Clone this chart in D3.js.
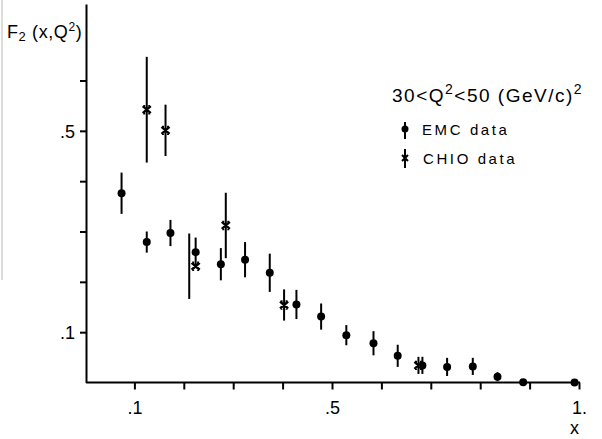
<!DOCTYPE html>
<html>
<head>
<meta charset="utf-8">
<script src="https://cdn.jsdelivr.net/npm/d3@7"></script>
<style>
  body { margin: 0; background: #fff; }
  text { font-family: "Liberation Sans", Arial, sans-serif; fill: #000; }
</style>
</head>
<body>
<div id="main"></div>
<script>
// EMC points: x, F2, error
const emcX = [0.074, 0.125, 0.173, 0.224, 0.275, 0.324, 0.374, 0.428, 0.478, 0.529,
  0.584, 0.633, 0.683, 0.733, 0.785, 0.835, 0.887, 0.991];
const emcF2 = [0.376, 0.279, 0.297, 0.259, 0.235, 0.244, 0.218, 0.155, 0.131, 0.094,
  0.078, 0.053, 0.034, 0.031, 0.032, 0.0115, 0.0004, 0.0];
const emcErr = [0.041, 0.021, 0.026, 0.029, 0.032, 0.035, 0.038, 0.029, 0.026, 0.020,
  0.024, 0.022, 0.017, 0.018, 0.017, 0.009, 0.005, 0.004];

// CHIO points (bar x differs for one point in the original)
const chioX = [0.125, 0.163, 0.224, 0.285, 0.403, 0.675];
const chioBarX = [0.125, 0.163, 0.211, 0.285, 0.403, 0.675];
const chioF2 = [0.542, 0.501, 0.231, 0.312, 0.154, 0.034];
const chioErr = [0.105, 0.051, 0.065, 0.065, 0.031, 0.017];

const xTicks = [0.1, 0.2, 0.3, 0.4, 0.5, 0.6, 0.7, 0.8, 0.9, 1.0];
const xLabels = { 0.1: ".1", 0.5: ".5", 1: "1." };
const yTicks = [0.1, 0.2, 0.3, 0.4, 0.5, 0.6];
const yLabels = { 0.1: ".1", 0.5: ".5" };

const width = 602;
const height = 439;

const svg = d3.select("#main").append("svg").attr("width", width).attr("height", height);

const xScale = d3.scaleLinear().domain([0, 1]).range([85, 579]);
const yScale = d3.scaleLinear().domain([0, 0.752]).range([382.5, 4]);

// faint scan edge on the left
svg.append("line")
  .attr("x1", 2).attr("x2", 2).attr("y1", 0).attr("y2", 280)
  .attr("stroke", "#d0d0d0").attr("stroke-width", 1.5);

// axes
const xAxis = d3.axisBottom(xScale)
  .tickValues(xTicks)
  .tickFormat((d) => xLabels[Math.round(d * 10) / 10] || "")
  .tickSize(7)
  .tickSizeOuter(0)
  .tickPadding(12);

const yAxis = d3.axisLeft(yScale)
  .tickValues(yTicks)
  .tickFormat((d) => yLabels[Math.round(d * 10) / 10] || "")
  .tickSize(6)
  .tickSizeOuter(0)
  .tickPadding(5);

const gx = svg.append("g").attr("transform", `translate(0, ${yScale(0)})`).call(xAxis);
const gy = svg.append("g").attr("transform", `translate(86, 0)`).call(yAxis);

gx.select(".domain").attr("d", `M86,0H${xScale(1) + 1}`);
[gx, gy].forEach((g) => {
  g.select(".domain").attr("stroke", "#000").attr("stroke-width", 2);
  g.selectAll(".tick line").attr("stroke", "#000").attr("stroke-width", 2);
  g.selectAll(".tick text")
    .style("font-family", "'Liberation Sans', Arial, sans-serif")
    .style("font-size", "18px")
    .attr("fill", "#000");
});
gy.selectAll(".tick text").attr("dy", "0.36em");

// axis titles
svg.append("text")
  .attr("x", 570).attr("y", 434)
  .style("font-size", "18px")
  .text("x");

const yTitle = svg.append("text")
  .attr("x", 7).attr("y", 38)
  .style("font-size", "18px")
  .style("letter-spacing", "0.6px");
yTitle.append("tspan").text("F");
yTitle.append("tspan").attr("dy", 3).style("font-size", "13px").text("2");
yTitle.append("tspan").attr("dy", -3).text(" (x,Q");
yTitle.append("tspan").attr("dy", -7).style("font-size", "12px").text("2");
yTitle.append("tspan").attr("dy", 7).text(")");

// error bars
const drawBars = (xs, ys, errs) => {
  svg.append("g")
    .selectAll("line")
    .data(ys)
    .enter()
    .append("line")
    .attr("x1", (d, i) => xScale(xs[i]))
    .attr("x2", (d, i) => xScale(xs[i]))
    .attr("y1", (d, i) => yScale(d + errs[i]))
    .attr("y2", (d, i) => Math.min(yScale(Math.max(d - errs[i], 0)), yScale(0)))
    .attr("stroke", "#000")
    .attr("stroke-width", 2);
};

drawBars(emcX, emcF2, emcErr);
drawBars(chioBarX, chioF2, chioErr);

svg.append("g")
  .selectAll("circle")
  .data(emcF2)
  .enter()
  .append("circle")
  .attr("cx", (d, i) => xScale(emcX[i]))
  .attr("cy", (d) => yScale(d))
  .attr("r", 4)
  .attr("fill", "#000");

const crossPath = "M-4,-3.5L4,3.5M4,-3.5L-4,3.5M-3.5,-3.5H-1.5M1.5,-3.5H3.5M-3.5,3.5H-1.5M1.5,3.5H3.5";

svg.append("g")
  .selectAll("path")
  .data(chioF2)
  .enter()
  .append("path")
  .attr("transform", (d, i) => `translate(${xScale(chioX[i])}, ${yScale(d)})`)
  .attr("d", crossPath)
  .attr("fill", "none")
  .attr("stroke", "#000")
  .attr("stroke-width", 2.4);

// legend
const legendTitle = svg.append("text")
  .attr("x", 392).attr("y", 102)
  .style("font-size", "19px")
  .style("letter-spacing", "1.5px");
legendTitle.append("tspan").text("30<Q");
legendTitle.append("tspan").attr("dy", -8).style("font-size", "14px").text("2");
legendTitle.append("tspan").attr("dy", 8).text("<50 (GeV/c)");
legendTitle.append("tspan").attr("dy", -8).style("font-size", "14px").text("2");

const leg1 = svg.append("g").attr("transform", "translate(405, 129)");
leg1.append("line").attr("y1", -7).attr("y2", 10).attr("stroke", "#000").attr("stroke-width", 2);
leg1.append("circle").attr("r", 3.5).attr("fill", "#000");
leg1.append("text")
  .attr("x", 17).attr("y", 6)
  .style("font-size", "15px")
  .style("letter-spacing", "2.6px")
  .text("EMC data");

const leg2 = svg.append("g").attr("transform", "translate(405, 158)");
leg2.append("line").attr("y1", -9).attr("y2", 10).attr("stroke", "#000").attr("stroke-width", 2);
leg2.append("path")
  .attr("d", "M-3,-3L3,3M3,-3L-3,3")
  .attr("fill", "none").attr("stroke", "#000").attr("stroke-width", 2);
leg2.append("text")
  .attr("x", 18).attr("y", 6)
  .style("font-size", "15px")
  .style("letter-spacing", "2.6px")
  .text("CHIO data");
</script>
</body>
</html>
